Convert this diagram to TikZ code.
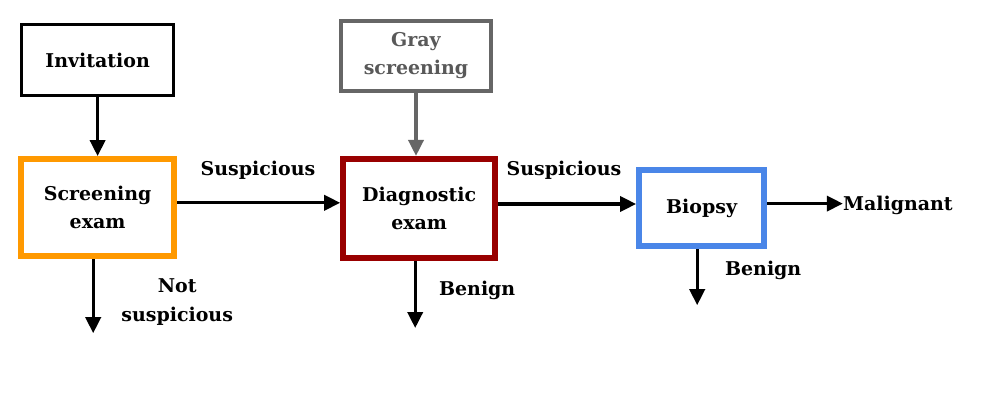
\documentclass[tikz,border=0pt]{standalone}
\usepackage{fontspec}
\setmainfont{DejaVu Serif}
\usepackage{tikz}
\usetikzlibrary{arrows.meta}
\definecolor{scorange}{HTML}{FF9900}
\definecolor{dxred}{HTML}{990000}
\definecolor{bxblue}{HTML}{4A86E8}
\definecolor{grayline}{HTML}{666666}
\definecolor{graytext}{HTML}{595959}

\begin{document}
\begin{tikzpicture}[x=1cm,y=1cm,
    stage/.style={draw, fill=white, align=center, inner sep=0pt,
                  font=\bfseries\fontsize{13.5}{20}\selectfont},
    arr/.style={line width=2.3pt, -{Triangle[length=4mm, width=3.8mm]}},
    lab/.style={align=center, inner sep=0pt, font=\bfseries\fontsize{13.5}{20}\selectfont}]

  % -- the stages (px/40, y measured from the bottom edge)
  \node[stage, line width=2.1pt, minimum width=3.8cm, minimum height=1.775cm]
    (invite) at (2.44,8.65) {Invitation};
  \node[stage, line width=4.3pt, draw=scorange, minimum width=3.825cm, minimum height=2.425cm]
    (screen) at (2.44,4.96) {Screening\\exam};
  \node[stage, line width=2.8pt, draw=grayline, text=graytext, minimum width=3.75cm, minimum height=1.75cm]
    (gray) at (10.40,8.75) {Gray\\screening};
  \node[stage, line width=4.3pt, draw=dxred, minimum width=3.8cm, minimum height=2.475cm]
    (diag) at (10.48,4.94) {Diagnostic\\exam};
  \node[stage, line width=4.3pt, draw=bxblue, minimum width=3.125cm, minimum height=1.9cm]
    (biopsy) at (17.54,4.95) {Biopsy};
  \node[lab, anchor=west] (malig) at (21.07,5.02) {Malignant};

  % -- free ends of the downward arrows
  \coordinate (screenout) at (2.33,1.82);
  \coordinate (diagout) at (10.38,1.95);
  \coordinate (biopsyout) at (17.43,2.52);

  % -- connectors
  \draw[arr] (invite) -- (screen);
  \draw[arr, grayline] (gray.south) -- (gray.south |- diag.north);
  \draw[arr] (screen.east |- 0,5.08) -- (diag.west |- 0,5.08);
  \draw[arr] (diag.east |- 0,5.05) -- (biopsy.west |- 0,5.05);
  \draw[arr] (biopsy.east |- 0,5.06) -- (malig.west |- 0,5.06);
  \draw[arr] (screenout |- screen.south) -- (screenout);
  \draw[arr] (diagout |- diag.south) -- (diagout);
  \draw[arr] (biopsyout |- biopsy.south) -- (biopsyout);

  % -- outcome labels
  \node[lab] (susp1) at (6.45,5.90) {Suspicious};
  \node[lab] (susp2) at (14.10,5.90) {Suspicious};
  \node[lab] (notsusp) at (4.43,2.60) {Not\\suspicious};
  \node[lab] (benign1) at (11.93,2.88) {Benign};
  \node[lab] (benign2) at (19.08,3.40) {Benign};

  \useasboundingbox (0,0) rectangle (24.55,10.15);
\end{tikzpicture}
\end{document}
